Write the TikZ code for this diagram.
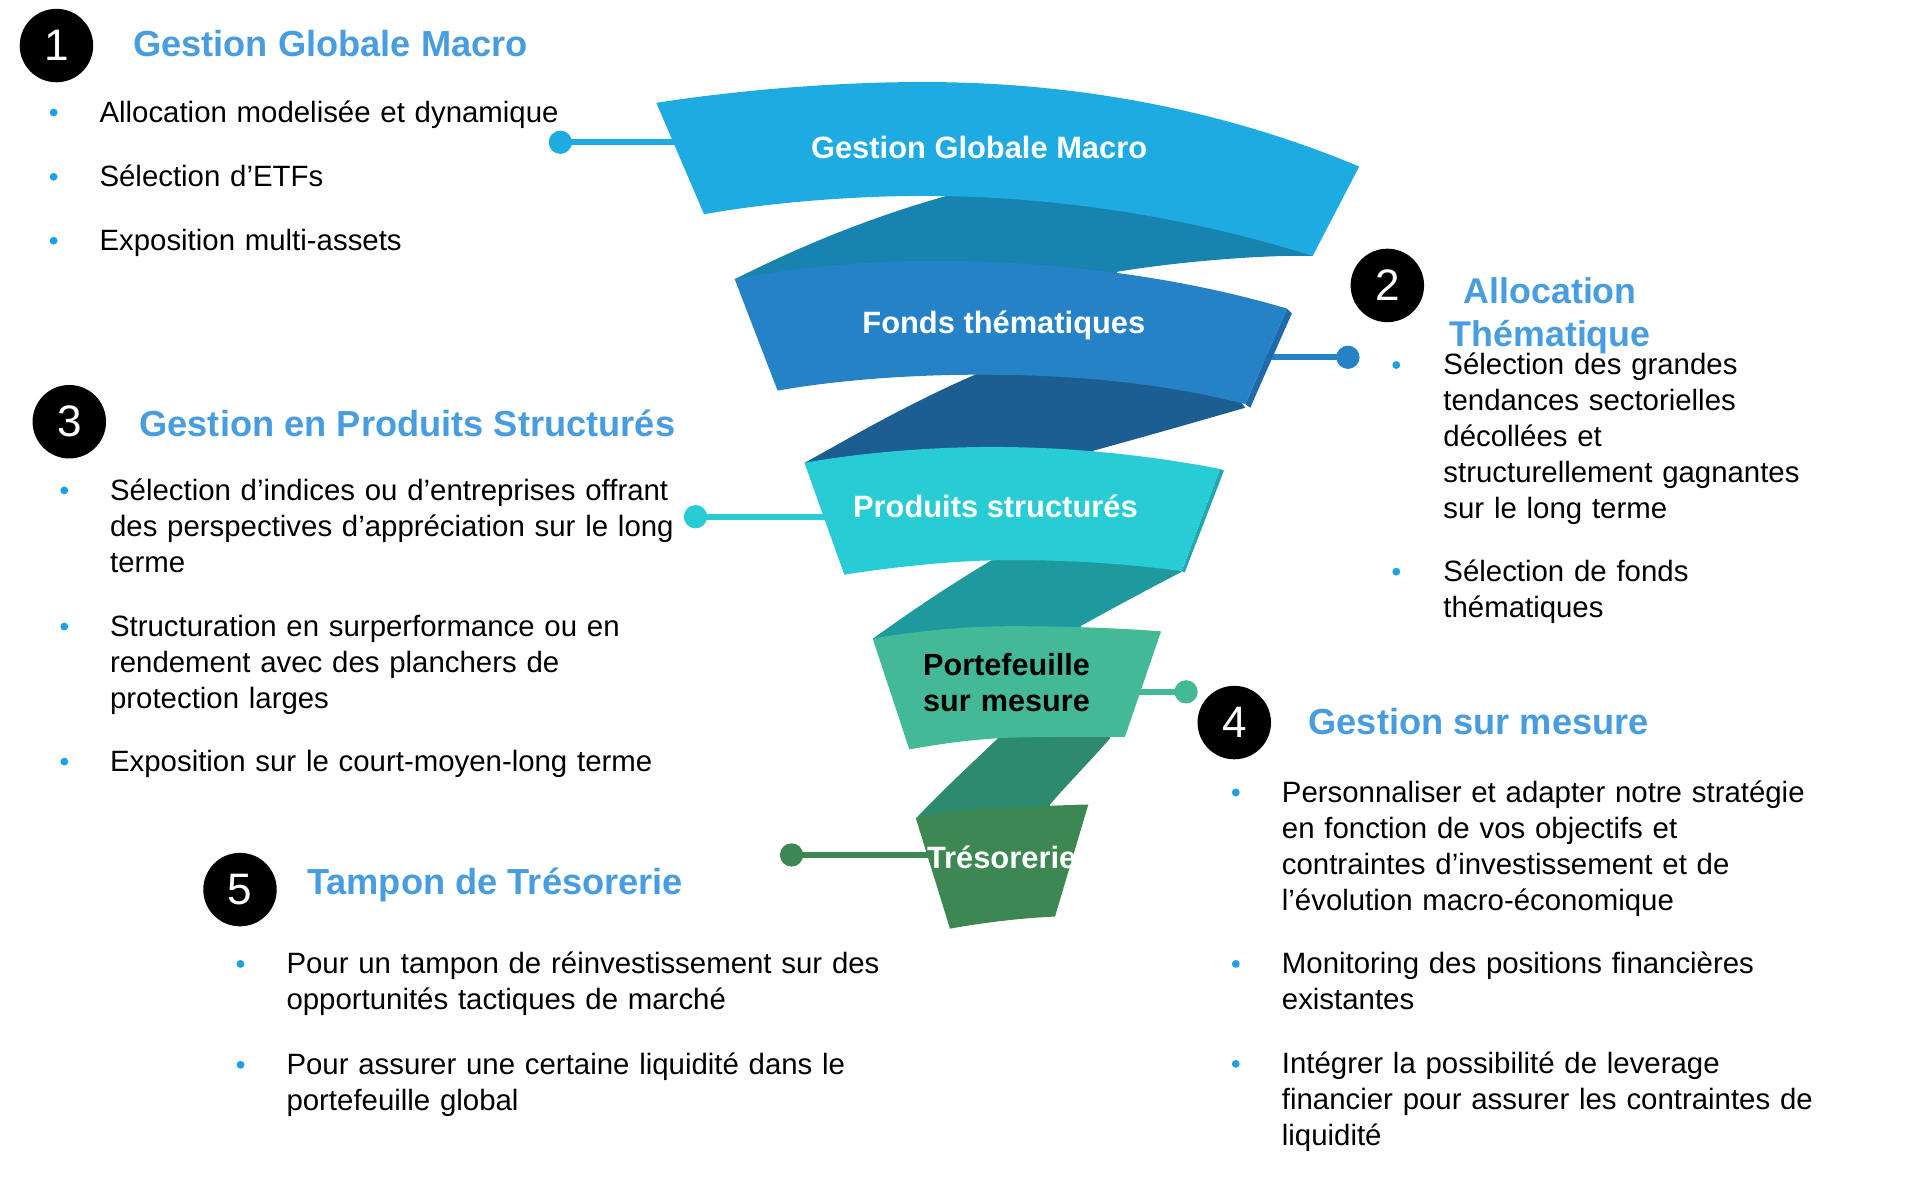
\documentclass[tikz,border=0pt]{standalone}
\usepackage{fontspec}
\setmainfont{Liberation Sans}
\definecolor{cA}{RGB}{30,171,226}
\definecolor{bA}{RGB}{23,131,174}
\definecolor{cB}{RGB}{38,130,198}
\definecolor{sB}{RGB}{31,106,170}
\definecolor{bB}{RGB}{29,94,146}
\definecolor{cC}{RGB}{39,204,213}
\definecolor{sC}{RGB}{32,167,179}
\definecolor{bC}{RGB}{30,154,159}
\definecolor{cD}{RGB}{67,185,151}
\definecolor{bD}{RGB}{46,138,110}
\definecolor{cE}{RGB}{61,135,82}
\definecolor{headblue}{RGB}{72,157,225}
\definecolor{bulblue}{RGB}{29,161,226}
\begin{document}
\begin{tikzpicture}[x=0.5pt,y=-0.5pt,
  body/.style={font=\fontsize{12.0pt}{14.7pt}\selectfont, text width=300pt, align=left, anchor=base west, inner sep=0pt, text=black},
  head/.style={font=\fontsize{14.8pt}{17.7pt}\selectfont\bfseries, text=headblue, anchor=base west, inner sep=0pt},
  bandlbl/.style={font=\fontsize{12.6pt}{14.8pt}\selectfont\bfseries, text=white, anchor=base, inner sep=0pt},
  numc/.style={circle, fill=black, minimum size=30pt, inner sep=0pt, text=white, font=\fontsize{18pt}{18pt}\selectfont},
  bul/.style={circle, fill=bulblue, minimum size=3.2pt, inner sep=0pt},
  dotc/.style={circle, minimum size=9.5pt, inner sep=0pt},
  conn/.style={line width=2.5pt}]
\useasboundingbox (0,0) rectangle (1568,962);

% ---------- back (twist) pieces ----------
\fill[bA] (600,228) .. controls (640,208) and (700,180) .. (780,158) -- (790,145) -- (1040,170) -- (1072,209)
  .. controls (1030,208) and (960,214) .. (912,222) -- (912,255) -- (620,250) -- cycle;
\fill[bB] (657,378) .. controls (690,360) and (740,330) .. (801,304) -- (810,295) -- (1000,310) -- (1017,333)
  .. controls (975,345) and (930,358) .. (893,368) -- (893,400) -- (680,400) -- cycle;
\fill[bC] (713,521.5) .. controls (740,502) and (775,478) .. (814,455) -- (820,445) -- (955,455) -- (965,467)
  .. controls (940,480) and (910,496) .. (883,511) -- (883,540) -- (730,540) -- cycle;
\fill[bD] (748,668.4) .. controls (770,645) and (795,622) .. (817,601) -- (820,590) -- (905,590) -- (906.5,603)
  .. controls (890,622) and (872,640) .. (857.5,657) -- (857.5,690) -- (760,690) -- cycle;

% ---------- connector lines ----------
\node[dotc, fill=cA] (d1) at (457.6,116.2) {};
\coordinate (e1) at (556,116.2);
\node[dotc, fill=cB] (d2) at (1100.8,291.8) {};
\coordinate (e2) at (1028,291.8);
\node[dotc, fill=cC] (d3) at (568,422) {};
\coordinate (e3) at (678,422);
\node[dotc, fill=cD] (d4) at (968.6,565) {};
\coordinate (e4) at (926,565);
\node[dotc, fill=cE] (d5) at (646.4,698.2) {};
\coordinate (e5) at (762,698.2);
\draw[conn, cA] (d1.center) -- (e1);
\draw[conn, cB] (e2) -- (d2.center);
\draw[conn, cC] (d3.center) -- (e3);
\draw[conn, cD] (e4) -- (d4.center);
\draw[conn, cE] (d5.center) -- (e5);

% ---------- bands ----------
\fill[cA] (536,84) .. controls (600,74) and (680,67) .. (754,67)
  .. controls (880,67) and (1000,90) .. (1110,136) -- (1072,209)
  .. controls (980,180) and (870,160) .. (754,160)
  .. controls (700,160) and (630,165) .. (575,175) -- cycle;
\fill[sB] (1051,252) -- (1055,256) -- (1021,333) -- (1017,330) -- cycle;
\fill[cB] (600,228) .. controls (650,218) and (710,213) .. (762,213)
  .. controls (870,213) and (970,228) .. (1051,252) -- (1017,330)
  .. controls (950,313) and (880,306) .. (800,306)
  .. controls (740,306) and (680,311) .. (635,319) -- cycle;
\fill[sC] (996.3,383) -- (999.5,384.5) -- (967.5,467.5) -- (965,466.5) -- cycle;
\fill[cC] (657,378) .. controls (700,370) and (760,365) .. (810,365)
  .. controls (880,365) and (945,373) .. (996.3,383) -- (965,466.5)
  .. controls (920,460) and (870,457.4) .. (827,457.4)
  .. controls (780,457.4) and (730,463) .. (689.5,469.3) -- cycle;
\fill[cD] (712.7,521.5) .. controls (750,515) and (790,511.4) .. (827,511.4)
  .. controls (870,511.4) and (915,513) .. (948.2,515.6) -- (918.7,601.7)
  .. controls (890,601.7) and (860,601.7) .. (830,602.3)
  .. controls (800,603) and (770,607) .. (742.6,612) -- cycle;
\fill[cE] (748,668.4) .. controls (770,663) and (790,660.5) .. (811,660)
  .. controls (840,659) and (865,657.5) .. (888.8,657) -- (861.6,748.5)
  .. controls (830,750) and (800,754) .. (775.8,758.4) -- cycle;

% band labels
\node[bandlbl] (t1) at (799.6,129.3) {Gestion Globale Macro};
\node[bandlbl] (t2) at (819.8,272.2) {Fonds thématiques};
\node[bandlbl] (t3) at (812.9,422.3) {Produits structurés};
\node[font=\fontsize{12.5pt}{14.8pt}\selectfont\bfseries, text=black, text width=80pt, align=left, anchor=base west, inner sep=0pt] (t4) at (753.5,551.6) {Portefeuille\\sur mesure};
\node[bandlbl] (t5) at (818,709) {Trésorerie};

% ---------- number circles ----------
\node[numc] (n1) at (46.1,37.2) {1};
\node[numc] (n2) at (1133,233.1) {2};
\node[numc] (n3) at (56.6,344.4) {3};
\node[numc] (n4) at (1008,590.1) {4};
\node[numc] (n5) at (196,726.5) {5};

% ---------- headings ----------
\node[head] (h1) at (108.3,46.3) {Gestion Globale Macro};
\node[font=\fontsize{14.6pt}{17.75pt}\selectfont\bfseries, text=headblue, inner sep=0pt, text width=110pt, align=center, anchor=base] (h2) at (1266,247.5) {Allocation\\Thématique};
\node[head] (h3) at (113.5,356.4) {Gestion en Produits Structurés};
\node[head] (h4) at (1068.2,600) {Gestion sur mesure};
\node[head] (h5) at (250.4,730.9) {Tampon de Trésorerie};

% ---------- section 1 ----------
\node[bul] (b11) at (43.8,91.9) {};
\node[body] (s11) at (80.9,100.2) {Allocation modelisée et dynamique};
\node[bul] (b12) at (43.8,144.4) {};
\node[body] (s12) at (80.9,152.4) {Sélection d’ETFs};
\node[bul] (b13) at (43.8,196.6) {};
\node[body] (s13) at (80.9,204.7) {Exposition multi-assets};

% ---------- section 2 ----------
\node[bul] (b21) at (1140.3,298.1) {};
\node[body] (s21) at (1178.4,306.2) {Sélection des grandes\\tendances sectorielles\\décollées et\\structurellement gagnantes\\sur le long terme};
\node[bul] (b22) at (1140.3,466.9) {};
\node[body] (s22) at (1178.4,475) {Sélection de fonds\\thématiques};

% ---------- section 3 ----------
\node[bul] (b31) at (52.5,400.5) {};
\node[body] (s31) at (89.5,408.8) {Sélection d’indices ou d’entreprises offrant\\des perspectives d’appréciation sur le long\\terme};
\node[bul] (b32) at (52.5,511.7) {};
\node[body] (s32) at (89.5,519.9) {Structuration en surperformance ou en\\rendement avec des planchers de\\protection larges};
\node[bul] (b33) at (52.5,622) {};
\node[body] (s33) at (89.5,630.2) {Exposition sur le court-moyen-long terme};

% ---------- section 4 ----------
\node[bul] (b41) at (1009.2,647.2) {};
\node[body] (s41) at (1046.5,655.5) {Personnaliser et adapter notre stratégie\\en fonction de vos objectifs et\\contraintes d’investissement et de\\l’évolution macro-économique};
\node[bul] (b42) at (1009.2,787.2) {};
\node[body] (s42) at (1046.5,795.4) {Monitoring des positions financières\\existantes};
\node[bul] (b43) at (1009.2,868.8) {};
\node[body] (s43) at (1046.5,877) {Intégrer la possibilité de leverage\\financier pour assurer les contraintes de\\liquidité};

% ---------- section 5 ----------
\node[bul] (b51) at (196.4,787.2) {};
\node[body] (s51) at (233.6,795.4) {Pour un tampon de réinvestissement sur des\\opportunités tactiques de marché};
\node[bul] (b52) at (196.4,869.6) {};
\node[body] (s52) at (233.6,877.8) {Pour assurer une certaine liquidité dans le\\portefeuille global};
\end{tikzpicture}
\end{document}
